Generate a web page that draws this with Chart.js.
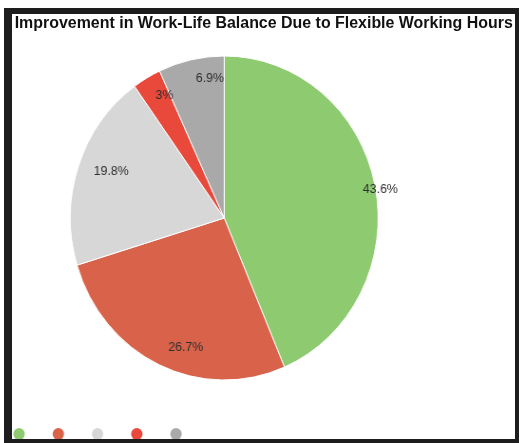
<!DOCTYPE html>
<html>
<head>
<meta charset="utf-8">
<script src="https://cdn.jsdelivr.net/npm/chart.js@4/dist/chart.umd.min.js"></script>
<style>
  body { margin: 0; background: #fff; }
  #frame {
    position: absolute;
    left: 4px;
    top: 8px;
    width: 503px;
    height: 425px;
    border-style: solid;
    border-color: #1d1d1d;
    border-width: 6px 4px 4px 8px;
    overflow: hidden;
    background: #fff;
  }
  /* the whole panel is drawn a little narrower than tall */
  #panel {
    position: relative;
    width: 530px;
    height: 436px;
    transform: scaleX(0.95);
    transform-origin: 0 0;
  }
  #panel canvas { position: absolute; left: 0; top: 0; }
  #title {
    position: absolute;
    left: 0;
    top: 0;
    width: 530px;
    text-align: center;
    white-space: nowrap;
    font: bold 16.8px/17px "Liberation Sans", Arial, sans-serif;
    color: #111;
    z-index: 1;
  }
</style>
</head>
<body>
<div id="frame">
  <div id="panel">
    <div id="title">Improvement in Work-Life Balance Due to Flexible Working Hours</div>
    <canvas id="pie-chart" width="530" height="436"></canvas>
  </div>
</div>

<script>
// PIE DATA ------------------------------------------------------

const categories = ["Greatly improved", "Somewhat improved", "No change", "Worsened", "Not sure"];
const shares = [43.6, 26.7, 19.8, 3, 6.9];
const sliceColors = ['#8dca70', '#d8634a', '#d7d7d7', '#e8493b', '#a9a9a9'];

// where each percentage sits: [fraction along the slice, fraction of the radius]
const labelSpot = [
    [0.51, 1.03],
    [0.42, 0.84],
    [0.54, 0.79],
    [0.78, 0.85],
    [0.75, 0.865]
];

// PERCENT LABELS ------------------------------------------------------

const sliceLabels = {
    id: 'sliceLabels',
    afterDatasetsDraw(chart) {
        const ctx = chart.ctx;
        chart.getDatasetMeta(0).data.forEach((arc, i) => {
            const {x, y, startAngle, endAngle, outerRadius} =
                arc.getProps(['x', 'y', 'startAngle', 'endAngle', 'outerRadius'], true);
            const [along, out] = labelSpot[i];
            const angle = startAngle + (endAngle - startAngle) * along;
            const r = outerRadius * out;
            ctx.save();
            ctx.font = '13px "Liberation Sans", Arial, sans-serif';
            ctx.fillStyle = '#2e2e2e';
            ctx.textAlign = 'center';
            ctx.textBaseline = 'middle';
            ctx.fillText(shares[i] + '%', x + Math.cos(angle) * r, y + Math.sin(angle) * r);
            ctx.restore();
        });
    }
};

// PIE CHART ------------------------------------------------------

const pieCanvas = document.getElementById("pie-chart");

const pieData = {
    labels: categories,
    datasets: [{
        data: shares,
        backgroundColor: sliceColors,
        borderColor: '#ffffff',
        borderWidth: 1,
        radius: 162
    }]
};

const pieOptions = {
    responsive: false,
    animation: false,
    layout: {
        // the negative left side only pulls the legend dots to the edge
        padding: { left: -23.6, right: 83.2, top: 20.8, bottom: 0 }
    },
    plugins: {
        title: { display: false },
        tooltip: { enabled: false },
        legend: {
            position: 'bottom',
            align: 'start',
            labels: {
                usePointStyle: true,
                pointStyle: 'circle',
                boxWidth: 8.5,
                boxHeight: 8.5,
                padding: 26.8,
                font: { size: 12 },
                // dots only, no text next to them
                generateLabels(chart) {
                    return Chart.overrides.pie.plugins.legend.labels.generateLabels(chart)
                        .map(item => ({ ...item, text: '', lineWidth: 0 }));
                }
            }
        }
    }
};

let pieChart = new Chart(pieCanvas, {
    type: 'pie',
    data: pieData,
    options: pieOptions,
    plugins: [sliceLabels]
});
</script>
</body>
</html>
